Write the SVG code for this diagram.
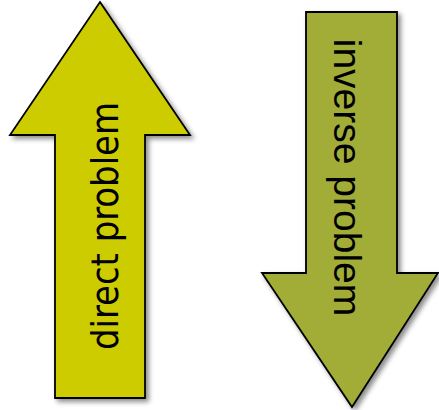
<svg xmlns="http://www.w3.org/2000/svg" width="439" height="410" viewBox="0 0 439 410">
  <defs>
    <filter id="shadow" x="-10%" y="-10%" width="130%" height="130%">
      <feDropShadow dx="3" dy="3" stdDeviation="2.5" flood-color="#000" flood-opacity="0.45"/>
    </filter>
    <style>
      .arrow { stroke: #000; stroke-width: 1.8; stroke-linejoin: miter; filter: url(#shadow); }
      .label { fill: #000; text-anchor: middle; }
    </style>
  </defs>
  <rect width="439" height="410" fill="#fff"/>
  <g id="direct">
    <polygon class="arrow" fill="#CCCC00" points="100,2 190,135 145,135 145,398 55,398 55,135 10,135"/>
    <text class="label" font-family="'DejaVu Sans Condensed', 'DejaVu Sans', sans-serif" font-size="38" textLength="248" lengthAdjust="spacingAndGlyphs" transform="translate(118,226) rotate(-90)">direct problem</text>
  </g>
  <g id="inverse">
    <polygon class="arrow" fill="#A2AD38" points="306,12 397,12 397,273 438,273 352,407 262,273 306,273"/>
    <text class="label" font-family="'Liberation Sans', Arial, sans-serif" font-size="39" transform="translate(334,177.5) rotate(90)">inverse problem</text>
  </g>
</svg>
